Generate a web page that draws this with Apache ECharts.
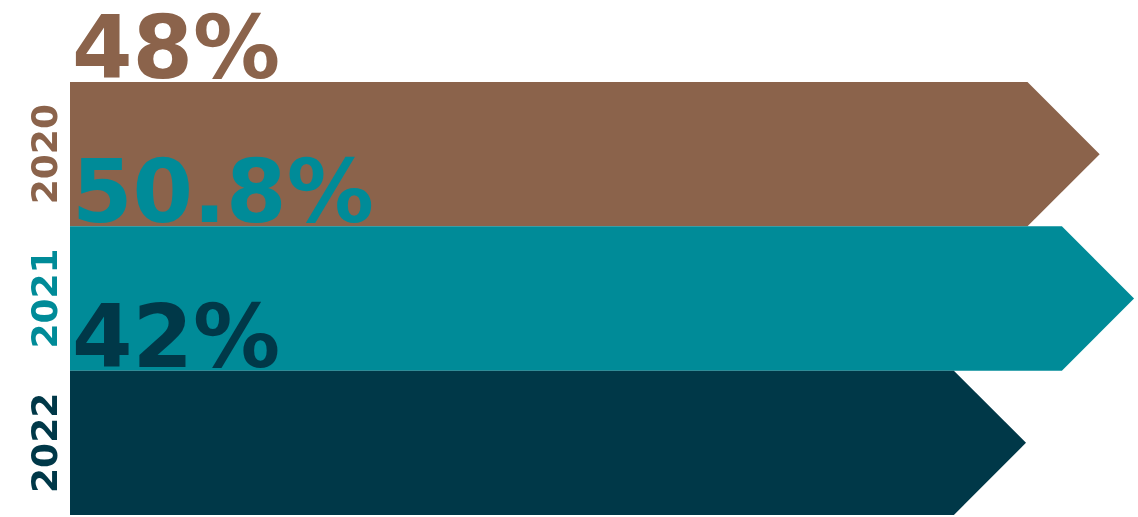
<!DOCTYPE html>
<html>
<head>
<meta charset="utf-8">
<script src="https://cdn.jsdelivr.net/npm/echarts@6/dist/echarts.min.js"></script>
<style>html,body{margin:0;padding:0;background:#fff;}#c{width:1138px;height:517px;}</style>
</head>
<body>
<div id="c"></div>
<script>
// Data
var years = ['2020', '2021', '2022'];
var values = [48, 50.8, 42];
var labels = ['48%', '50.8%', '42%'];
var colors = ['#8B634B', '#008B98', '#003848'];

var chart = echarts.init(document.getElementById('c'), null, {renderer: 'canvas'});

var rich = {};
years.forEach(function (y, i) {
  rich['c' + i] = {color: colors[i], fontSize: 36, fontWeight: 'bold', fontFamily: 'DejaVu Sans'};
});

var option = {
  animation: false,
  grid: {left: 70, right: 0, top: 82, bottom: 2, containLabel: false},
  xAxis: {
    type: 'value', min: -30, max: 57,
    show: false
  },
  yAxis: {
    type: 'category', data: years, inverse: true,
    axisLine: {show: false}, axisTick: {show: false}, splitLine: {show: false},
    axisLabel: {
      rotate: 90, margin: 4,
      formatter: function (v, i) { return '{c' + i + '|' + v + '}'; },
      rich: rich
    }
  },
  series: [{
    type: 'custom',
    data: values.map(function (v, i) { return [v, i]; }),
    encode: {x: 0, y: 1},
    renderItem: function (params, api) {
      var idx = api.value(1);
      var end = api.coord([api.value(0), idx]);
      var h = api.size([0, 1])[1];
      var left = params.coordSys.x;
      var top = end[1] - h / 2, bottom = end[1] + h / 2;
      var color = colors[params.dataIndex];
      return {
        type: 'group',
        children: [{
          type: 'text',
          style: {
            x: left + 2, y: top + 17,
            text: labels[params.dataIndex],
            fill: color,
            font: 'bold 87px "DejaVu Sans"',
            verticalAlign: 'bottom', align: 'left'
          }
        }, {
          type: 'polygon',
          shape: {points: [[left, top], [end[0], top], [end[0] + h / 2, end[1]], [end[0], bottom], [left, bottom]]},
          style: {fill: color}
        }]
      };
    }
  }]
};
chart.setOption(option);
</script>
</body>
</html>
